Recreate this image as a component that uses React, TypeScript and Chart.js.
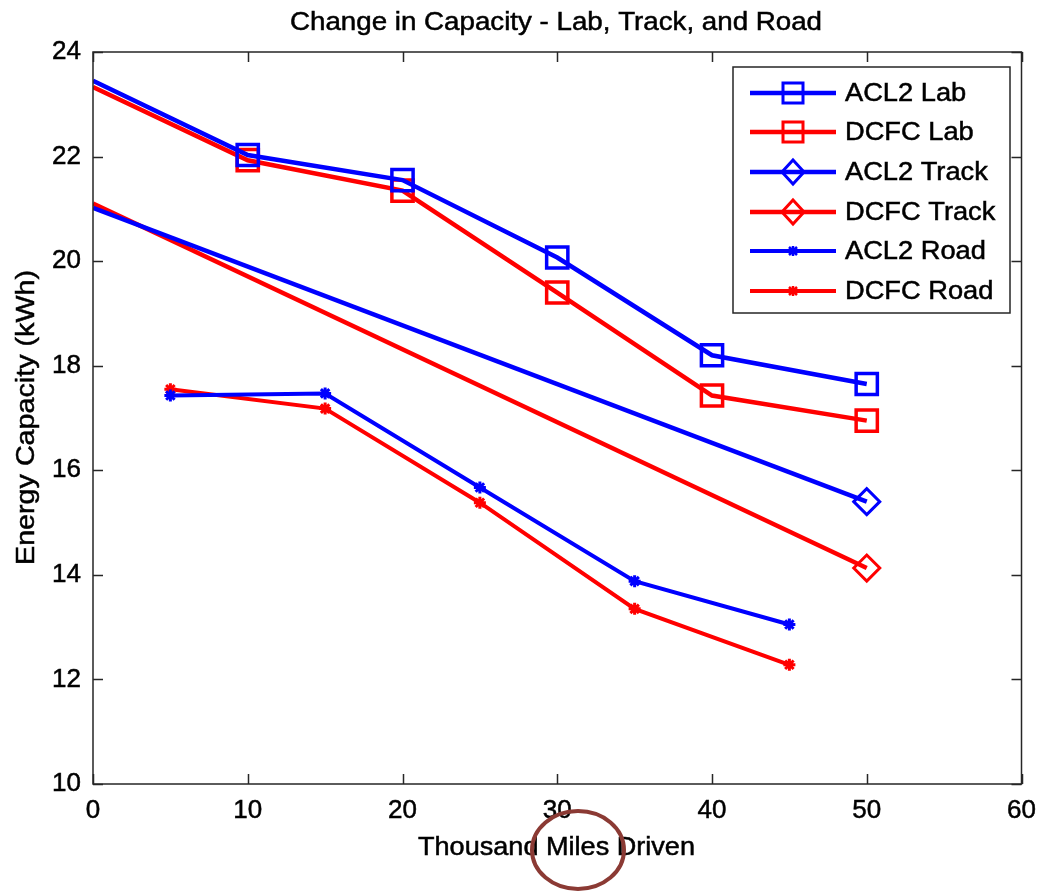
import React, { useEffect, useRef } from "react";
import { Chart, registerables } from "chart.js";

Chart.register(...registerables);

const TITLE = "Change in Capacity - Lab, Track, and Road";
const X_TITLE = "Thousand Miles Driven";
const Y_TITLE = "Energy Capacity (kWh)";

const labMiles = [0, 10, 20, 30, 40, 50];
const acl2Lab = [23.45, 22.03, 21.55, 20.07, 18.2, 17.65];
const dcfcLab = [23.33, 21.93, 21.35, 19.4, 17.43, 16.95];

const trackMiles = [0, 50];
const acl2Track = [21.02, 15.4];
const dcfcTrack = [21.1, 14.13];

const roadMiles = [5, 15, 25, 35, 45];
const acl2Road = [17.43, 17.47, 15.67, 13.88, 13.05];
const dcfcRoad = [17.55, 17.18, 15.38, 13.35, 12.28];

const seriesNames = ["ACL2 Lab", "DCFC Lab", "ACL2 Track", "DCFC Track", "ACL2 Road", "DCFC Road"];

const BLUE = "#0000ff";
const RED = "#ff0000";
const FONT = "'Liberation Sans', Arial, sans-serif";
const TEXT_STROKE = 0.5;

const toPts = (xs: number[], ys: number[]) => xs.map((x, i) => ({ x, y: ys[i] }));

function drawText(ctx: CanvasRenderingContext2D, text: string) {
  ctx.fillText(text, 0, 0);
  ctx.strokeStyle = "#000";
  ctx.lineWidth = TEXT_STROKE;
  ctx.strokeText(text, 0, 0);
}

function fitText(ctx: CanvasRenderingContext2D, text: string, x: number, y: number, width: number) {
  const w = ctx.measureText(text).width;
  ctx.save();
  ctx.translate(x, y);
  ctx.scale(width / w, 1);
  ctx.textAlign = "left";
  drawText(ctx, text);
  ctx.restore();
}

const decorPlugin = {
  id: "decor",
  afterDraw(chart: any) {
    const ctx: CanvasRenderingContext2D = chart.ctx;
    const { left, right, top, bottom } = chart.chartArea;
    const xs = chart.scales.x;
    const ys = chart.scales.y;
    ctx.save();
    // frame
    ctx.strokeStyle = "#262626";
    ctx.lineWidth = 1.5;
    ctx.strokeRect(left, top, right - left, bottom - top);
    // inward ticks
    const tl = 10;
    ctx.beginPath();
    xs.ticks.forEach((t: any) => {
      const px = Math.round(xs.getPixelForValue(t.value)) + 0.5;
      ctx.moveTo(px, bottom);
      ctx.lineTo(px, bottom - tl);
      ctx.moveTo(px, top);
      ctx.lineTo(px, top + tl);
    });
    ys.ticks.forEach((t: any) => {
      const py = Math.round(ys.getPixelForValue(t.value)) + 0.5;
      ctx.moveTo(left, py);
      ctx.lineTo(left + tl, py);
      ctx.moveTo(right, py);
      ctx.lineTo(right - tl, py);
    });
    ctx.stroke();

    // title and axis titles
    ctx.fillStyle = "#000";
    ctx.font = `25px ${FONT}`;
    ctx.textBaseline = "alphabetic";
    fitText(ctx, TITLE, 290, 30, 532);
    fitText(ctx, X_TITLE, 418, 855, 277);
    ctx.save();
    ctx.translate(34, 565);
    ctx.rotate(-Math.PI / 2);
    fitText(ctx, Y_TITLE, 0, 0, 295);
    ctx.restore();

    // legend
    const lx = 733, ly = 67, lw = 277, lh = 246;
    ctx.fillStyle = "#fff";
    ctx.fillRect(lx, ly, lw, lh);
    ctx.strokeStyle = "#262626";
    ctx.lineWidth = 1.5;
    ctx.strokeRect(lx, ly, lw, lh);
    const rows = [93, 132, 172, 212, 251, 291];
    chart.data.datasets.forEach((ds: any, i: number) => {
      const y = rows[i];
      ctx.strokeStyle = ds.borderColor;
      ctx.lineWidth = ds.borderWidth;
      ctx.beginPath();
      ctx.moveTo(750, y);
      ctx.lineTo(836, y);
      ctx.stroke();
      ctx.lineWidth = 3;
      ctx.beginPath();
      if (ds.pointStyle === "rect") {
        ctx.strokeRect(783, y - 10, 20, 20);
        ctx.moveTo(783, y);
        ctx.lineTo(803, y);
        ctx.stroke();
      } else if (ds.pointStyle === "rectRot") {
        ctx.moveTo(793, y - 12);
        ctx.lineTo(804, y);
        ctx.lineTo(793, y + 12);
        ctx.lineTo(782, y);
        ctx.closePath();
        ctx.stroke();
        ctx.beginPath();
        ctx.moveTo(782, y);
        ctx.lineTo(804, y);
        ctx.stroke();
      } else {
        ctx.lineWidth = 2.5;
        const r = 4;
        ctx.moveTo(793 - r, y - r);
        ctx.lineTo(793 + r, y + r);
        ctx.moveTo(793 + r, y - r);
        ctx.lineTo(793 - r, y + r);
        ctx.moveTo(793, y - r - 1);
        ctx.lineTo(793, y + r + 1);
        ctx.stroke();
      }
      ctx.fillStyle = "#000";
      ctx.font = `25px ${FONT}`;
      ctx.textBaseline = "middle";
      ctx.save();
      ctx.translate(845, y + 1);
      ctx.scale(1.09, 1);
      drawText(ctx, ds.label);
      ctx.restore();
    });

    // annotation circle
    ctx.strokeStyle = "#8b3a34";
    ctx.lineWidth = 4;
    ctx.beginPath();
    ctx.ellipse(578, 850, 46, 39, 0, 0, Math.PI * 2);
    ctx.stroke();
    ctx.restore();
  },
};

export default function App() {
  const ref = useRef<HTMLCanvasElement>(null);
  useEffect(() => {
    if (!ref.current) return;
    const mk = (label: string, xs: number[], ys: number[], color: string, style: string, radius: number, width: number, pbw: number) => ({
      label,
      data: toPts(xs, ys),
      borderColor: color,
      backgroundColor: "#fff",
      borderWidth: width,
      pointStyle: style,
      pointRadius: (c: any) => (c.raw && c.raw.x === 0 ? 0 : radius),
      pointBorderWidth: pbw,
      pointBackgroundColor: "rgba(255,255,255,0)",
      tension: 0,
      showLine: true,
    });
    const tickFont = { family: FONT, size: 26 };
    const chart = new Chart(ref.current, {
      type: "scatter",
      data: {
        datasets: [
          mk(seriesNames[0], labMiles, acl2Lab, BLUE, "rect", 15, 4.5, 3.5),
          mk(seriesNames[1], labMiles, dcfcLab, RED, "rect", 15, 4.5, 3.5),
          mk(seriesNames[2], trackMiles, acl2Track, BLUE, "rectRot", 13, 4.5, 3),
          mk(seriesNames[3], trackMiles, dcfcTrack, RED, "rectRot", 13, 4.5, 3),
          mk(seriesNames[4], roadMiles, acl2Road, BLUE, "star", 6, 4, 3),
          mk(seriesNames[5], roadMiles, dcfcRoad, RED, "star", 6, 4, 3),
        ] as any,
      },
      options: {
        animation: false,
        responsive: false,
        layout: { padding: { top: 52, right: 18, left: 0, bottom: 0 } },
        plugins: { legend: { display: false }, title: { display: false }, tooltip: { enabled: false } },
        scales: {
          x: {
            type: "linear",
            min: 0,
            max: 60,
            ticks: { stepSize: 10, color: "#000", font: tickFont, padding: 3, textStrokeColor: "#000", textStrokeWidth: TEXT_STROKE },
            grid: { display: false },
            border: { display: false },
            afterFit: (s: any) => { s.height = 107; s.paddingLeft = 0; s.paddingRight = 0; },
          },
          y: {
            type: "linear",
            min: 10,
            max: 24,
            ticks: { stepSize: 2, color: "#000", font: tickFont, padding: 4, textStrokeColor: "#000", textStrokeWidth: TEXT_STROKE },
            grid: { display: false },
            border: { display: false },
            afterFit: (s: any) => { s.width = 93; s.paddingTop = 0; s.paddingBottom = 0; },
          },
        },
      } as any,
      plugins: [decorPlugin],
    });
    return () => chart.destroy();
  }, []);
  return (
    <div style={{ position: "absolute", left: 0, top: 0, width: 1040, height: 891, background: "#fff" }}>
      <canvas ref={ref} width={1040} height={891} style={{ width: 1040, height: 891 }} />
    </div>
  );
}
